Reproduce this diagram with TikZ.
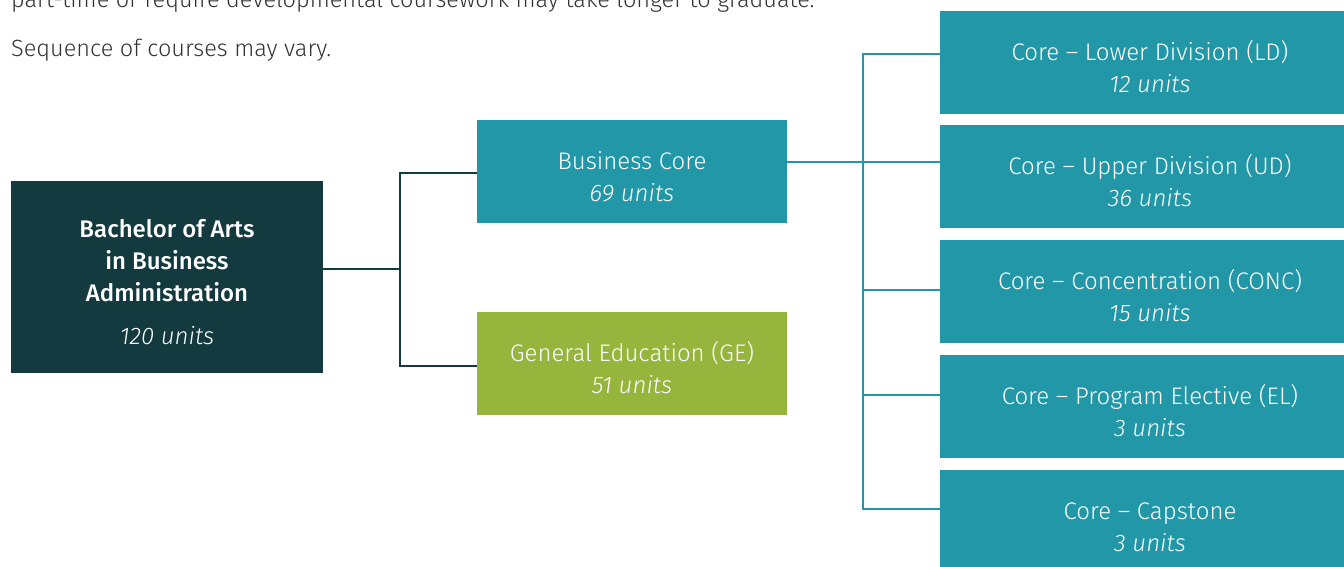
\documentclass[tikz,border=0pt]{standalone}
\usepackage{fontspec}
\setmainfont{Fira Sans}[UprightFont=* Light, ItalicFont=* Light Italic, BoldFont=* Medium]
\definecolor{dark}{HTML}{133A3F}
\definecolor{teal}{HTML}{2197A7}
\definecolor{green}{HTML}{95B53D}
\definecolor{txt}{HTML}{333333}
\newcommand{\upstrut}{\rule{0pt}{28pt}}
\tikzset{
  boxbase/.style={draw=none, inner sep=0pt, text=white, align=center, font=\fontsize{24}{32}\selectfont},
  box/.style={boxbase, fill=teal},
  dbox/.style={boxbase, fill=dark},
  gbox/.style={boxbase, fill=green},
  dline/.style={draw=dark, line width=2.5pt},
  tline/.style={draw=teal, line width=2.5pt},
  note/.style={text=txt, inner sep=0pt, anchor=base west, font=\fontsize{23.5}{28}\selectfont}
}
\begin{document}
\begin{tikzpicture}[x=1pt, y=-1pt]
\useasboundingbox (0,0) rectangle (1344,567);
\clip (0,0) rectangle (1344,567);
\node[note] (n1) at (11,8) {part-time or require developmental coursework may take longer to graduate.};
\node[note] (n2) at (11,57) {Sequence of courses may vary.};
\node[dbox, minimum width=312pt, minimum height=192pt] (root) at (167,277)
  {\upstrut\textbf{Bachelor of Arts}\\\textbf{in Business}\\\textbf{Administration}\\[11pt]\textit{120 units}};
\node[box, minimum width=310pt, minimum height=103pt] (bc) at (632,171.5) {\upstrut Business Core\\\textit{69 units}};
\node[gbox, minimum width=310pt, minimum height=103pt] (ge) at (632,363.5) {\upstrut General Education (GE)\\\textit{51 units}};
\node[box, minimum width=420pt, minimum height=103pt] (c1) at (1150,62.5) {\upstrut Core – Lower Division (LD)\\\textit{12 units}};
\node[box, minimum width=420pt, minimum height=103pt] (c2) at (1150,176.5) {\upstrut Core – Upper Division (UD)\\\textit{36 units}};
\node[box, minimum width=420pt, minimum height=103pt] (c3) at (1150,291.5) {\upstrut Core – Concentration (CONC)\\\textit{15 units}};
\node[box, minimum width=420pt, minimum height=103pt] (c4) at (1150,406.5) {\upstrut Core – Program Elective (EL)\\\textit{3 units}};
\node[box, minimum width=420pt, minimum height=103pt] (c5) at (1150,521.5) {\upstrut Core – Capstone\\\textit{3 units}};
\coordinate (j1) at (400,269);
\coordinate (j2) at (863,162);
\draw[dline] (root.east |- j1) -- (j1);
\draw[dline] (bc.west |- 0,173) -| (j1) |- (ge.west |- 0,366);
\draw[tline] (bc.east |- j2) -- (j2);
\draw[tline] (c1.west |- 0,54) -| (j2) |- (c5.west |- 0,509);
\draw[tline] (j2) -- (c2.west |- j2);
\draw[tline] (863,290) -- (c3.west |- 0,290);
\draw[tline] (863,395) -- (c4.west |- 0,395);
\end{tikzpicture}
\end{document}
